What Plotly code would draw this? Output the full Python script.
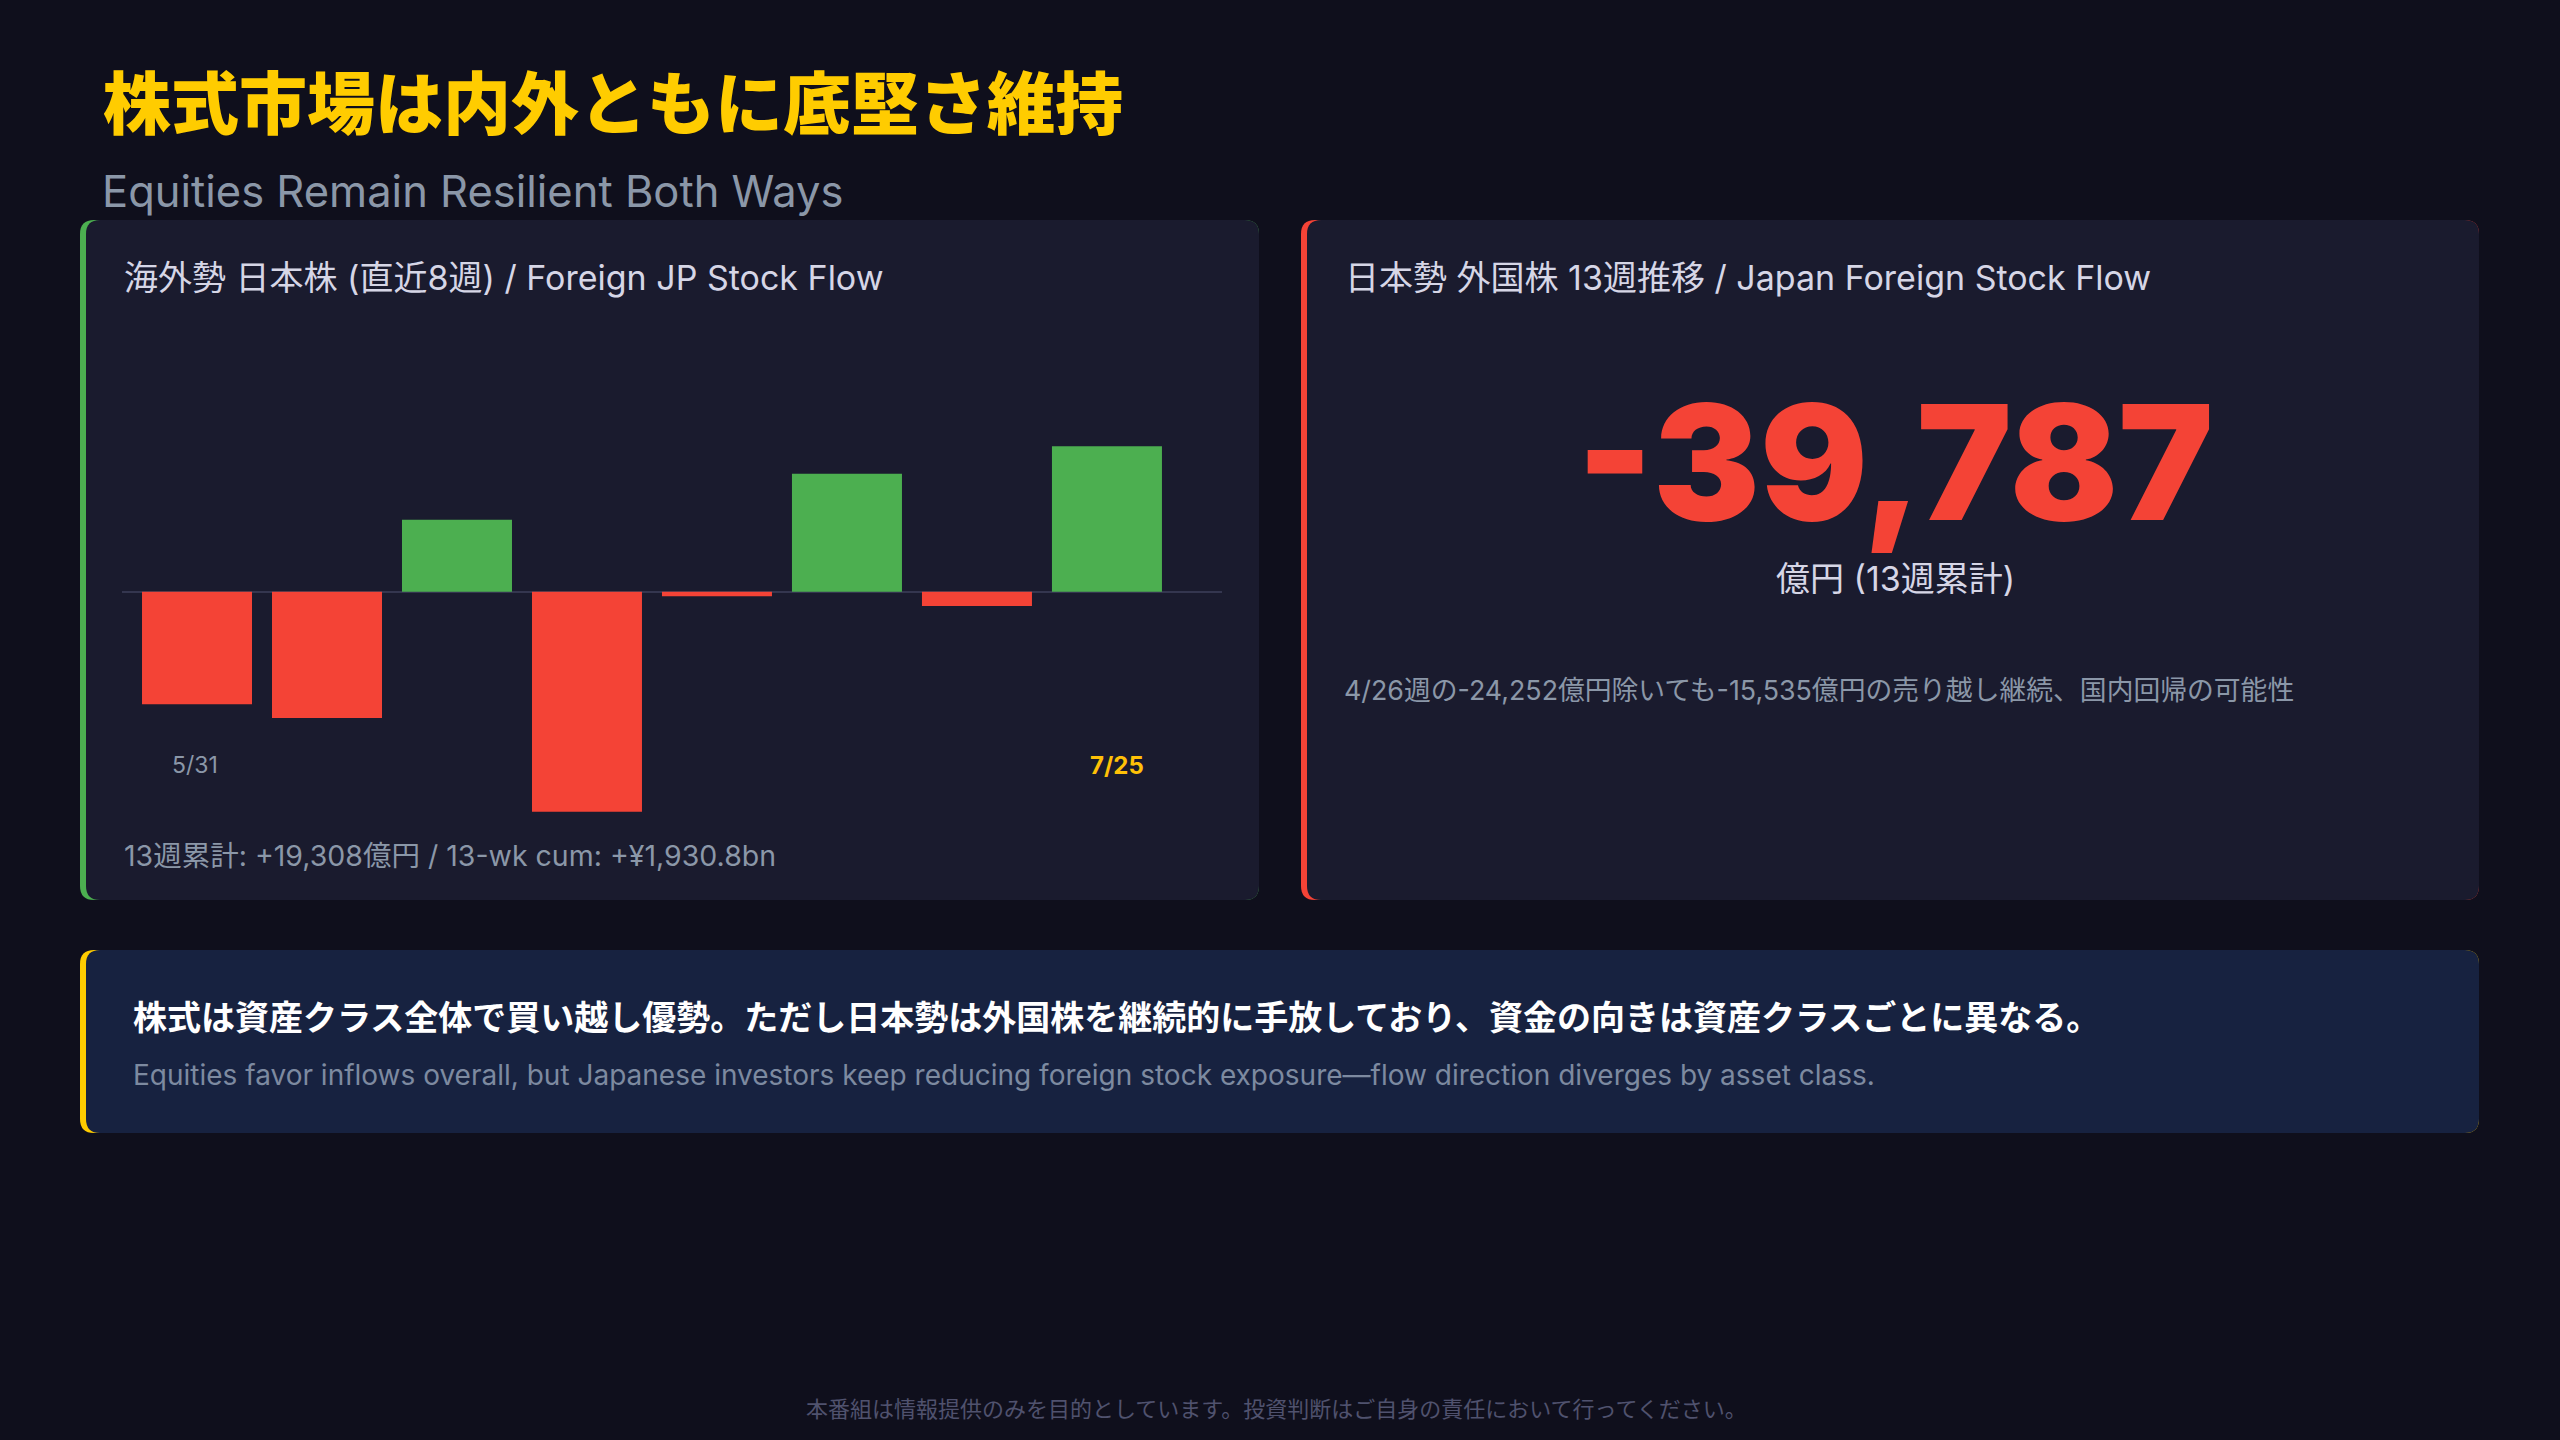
import plotly.graph_objects as go

# ---------------- data ----------------
week_index = [0, 1, 2, 3, 4, 5, 6, 7]
foreign_jp_flow = [-6750, -7580, 4310, -13200, -270, 7070, -860, 8730]  # 億円, last 8 weeks
first_week_label = "5/31"
last_week_label = "7/25"

title_jp = "株式市場は内外ともに底堅さ維持"
title_en = "Equities Remain Resilient Both Ways"
left_title = "海外勢 日本株 (直近8週) / Foreign JP Stock Flow"
left_note = "13週累計: +19,308億円 / 13-wk cum: +¥1,930.8bn"
right_title = "日本勢 外国株 13週推移 / Japan Foreign Stock Flow"
right_value = "-39,787"
right_unit = "億円 (13週累計)"
right_note = "4/26週の-24,252億円除いても-15,535億円の売り越し継続、国内回帰の可能性"
summary_jp = "株式は資産クラス全体で買い越し優勢。ただし日本勢は外国株を継続的に手放しており、資金の向きは資産クラスごとに異なる。"
summary_en = ("Equities favor inflows overall, but Japanese investors keep reducing foreign stock "
              "exposure—flow direction diverges by asset class.")
footer = "本番組は情報提供のみを目的としています。投資判断はご自身の責任において行ってください。"

# ---------------- style ----------------
W, H = 2560, 1440
BG = "#0F0F1C"
CARD = "#1A1B2E"
CARD2 = "#172240"
GREEN = "#4CAF50"
RED = "#F44336"
YELLOW = "#FFCC00"
GRAY = "#8B97A8"
LIGHT = "#D6D6E6"
FONT = "Inter, Noto Sans CJK JP, sans-serif"
CJK = "Noto Sans CJK JP, sans-serif"


def px(x):
    return x / W


def py(y):
    return 1 - y / H


def rrect(x0, y0, x1, y1, r):
    def P(x, y):
        return f"{px(x):.6f},{py(y):.6f}"
    return (f"M {P(x0 + r, y0)} L {P(x1 - r, y0)} Q {P(x1, y0)} {P(x1, y0 + r)} "
            f"L {P(x1, y1 - r)} Q {P(x1, y1)} {P(x1 - r, y1)} "
            f"L {P(x0 + r, y1)} Q {P(x0, y1)} {P(x0, y1 - r)} "
            f"L {P(x0, y0 + r)} Q {P(x0, y0)} {P(x0 + r, y0)} Z")


def card(x0, y0, x1, y1, accent, fill, r=14, bw=6):
    return [
        dict(type="path", path=rrect(x0, y0, x1, y1, r), xref="paper", yref="paper",
             fillcolor=accent, line=dict(width=0), layer="below"),
        dict(type="path", path=rrect(x0 + bw, y0, x1, y1, r), xref="paper", yref="paper",
             fillcolor=fill, line=dict(width=0), layer="below"),
    ]


shapes = []
shapes += card(80, 220, 1259, 900, GREEN, CARD)
shapes += card(1301, 220, 2479, 900, RED, CARD)
shapes += card(80, 950, 2479, 1133, YELLOW, CARD2)

colors = [GREEN if v >= 0 else RED for v in foreign_jp_flow]

fig = go.Figure()
fig.add_trace(go.Bar(
    x=week_index, y=foreign_jp_flow, width=[110 / 130] * len(week_index),
    marker=dict(color=colors, line=dict(width=0)), hoverinfo="skip", showlegend=False,
))

# pixel mapping of the bar panel
plot_top, plot_bot, zero_y = 300, 830, 591.7
k = 60.0
fig.update_layout(
    width=W, height=H, margin=dict(l=0, r=0, t=0, b=0),
    paper_bgcolor=BG, plot_bgcolor="rgba(0,0,0,0)",
    xaxis=dict(domain=[px(122), px(1222)], range=[-0.577, 7.885], showgrid=False,
               zeroline=False, showticklabels=False, ticks="", fixedrange=True),
    yaxis=dict(domain=[py(plot_bot), py(plot_top)],
               range=[-(plot_bot - zero_y) * k, (zero_y - plot_top) * k],
               showgrid=False, zeroline=True, zerolinecolor="#34364F", zerolinewidth=2,
               showticklabels=False, ticks="", fixedrange=True),
    shapes=shapes,
)

ann = []


def text(x, y, s, size, color, family=FONT, weight=400, xanchor="left", yanchor="middle",
         xref="paper", xshift=0):
    ann.append(dict(x=x if xref != "paper" else px(x), y=py(y), xref=xref, yref="paper",
                    text=s, showarrow=False, xanchor=xanchor, yanchor=yanchor, xshift=xshift,
                    font=dict(size=size, color=color, family=family, weight=weight)))


text(101, 100, title_jp, 68, YELLOW, family=CJK, weight=900)
text(100, 191, title_en, 43.5, GRAY)
text(122, 277, left_title, 34, LIGHT)
text(122, 855, left_note, 28.5, GRAY)
text(week_index[0], 765, first_week_label, 23, GRAY, xanchor="center", xref="x", xshift=-2)
text(week_index[-1], 765, last_week_label, 24, "#FFC107", weight=700, xanchor="center", xref="x",
     xshift=10)
text(1343, 277, right_title, 34, LIGHT)
text(1895, 462, right_value, 160, RED, family="Inter, Roboto, sans-serif", weight=900, xanchor="center")
text(1895, 578, right_unit, 34, LIGHT, xanchor="center")
text(1342, 690, right_note, 26.8, GRAY)
text(131, 1015, summary_jp, 34, "#FFFFFF", family=CJK, weight=700)
text(131, 1075, summary_en, 28, "#7D8AA0")
text(1276, 1407, footer, 22, "#50526E", family=CJK, xanchor="center")

fig.update_layout(annotations=ann)

fig.write_html("out.html", config={"displayModeBar": False},
               post_script="document.body.style.margin='0';document.body.style.background='#0F0F1C';")
